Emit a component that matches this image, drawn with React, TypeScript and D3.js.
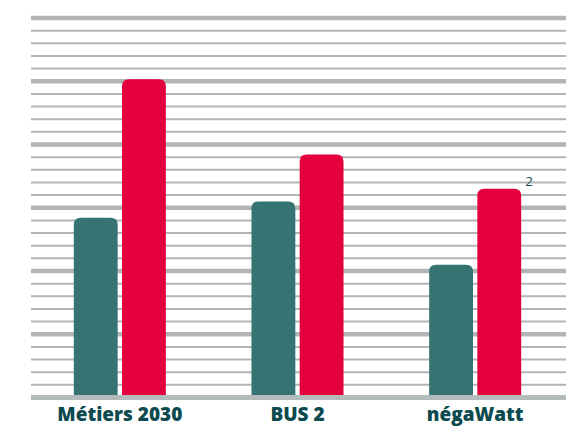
import React from "react";
import * as d3 from "d3";

// scenarios and the two series (in grid units)
const categories = ["Métiers 2030", "BUS 2", "négaWatt"];
const seriesKeys = ["a", "b"];
const seriesA = [14.2, 15.5, 10.5];
const seriesB = [25.15, 19.2, 16.5];
const gridTicks = d3.range(0, 31);
const noteLabel = "2";

const width = 579;
const height = 428;
const colors = ["#367473", "#e4003d"];

function topRounded(x: number, y: number, w: number, h: number, r: number) {
  const rr = Math.min(r, w / 2, h);
  return (
    `M${x},${y + h}` +
    `V${y + rr}` +
    `Q${x},${y} ${x + rr},${y}` +
    `H${x + w - rr}` +
    `Q${x + w},${y} ${x + w},${y + rr}` +
    `V${y + h}Z`
  );
}

export default function App() {
  const y = d3.scaleLinear().domain([0, 30]).range([397.5, 18]);
  const x0 = d3.scaleBand().domain(categories).range([31, 564]).paddingInner(0.482).paddingOuter(0.241);
  const x1 = d3.scaleBand().domain(seriesKeys).range([0, x0.bandwidth()]).paddingInner(0.09);

  const rows = categories.map((c, i) => ({ cat: c, values: [seriesA[i], seriesB[i]] }));

  return (
    <svg width={width} height={height} style={{ position: "absolute", left: 0, top: 0, background: "#fff" }}>
      <g>
        {gridTicks.map((t) => (
          <line
            key={t}
            x1={31}
            x2={566}
            y1={y(t)}
            y2={y(t)}
            stroke="#b1b5b8"
            strokeWidth={t % 5 === 0 ? 4.5 : 2}
          />
        ))}
      </g>
      <g>
        {rows.map((r) => (
          <g key={r.cat} transform={"translate(" + x0(r.cat) + ",0)"}>
            {r.values.map((v, j) => (
              <path
                key={j}
                d={topRounded(x1(seriesKeys[j])!, y(v), x1.bandwidth(), y(0) - y(v), 7)}
                fill={colors[j]}
              />
            ))}
          </g>
        ))}
      </g>
      <line x1={31} x2={566} y1={y(0)} y2={y(0)} stroke="#b3bbbc" strokeWidth={5} />
      <text
        x={x0("négaWatt")! + x1("b")! + x1.bandwidth() + 4}
        y={y(seriesB[2]) - 3}
        fontFamily="'Open Sans', sans-serif"
        fontSize={13.5}
        fill="#1d4c52"
      >
        {noteLabel}
      </text>
      <g>
        {categories.map((c) => (
          <text
            key={c}
            x={x0(c)! + x0.bandwidth() / 2}
            y={421}
            textAnchor="middle"
            fontFamily="'Open Sans', sans-serif"
            fontWeight={800}
            fontSize={19}
            fill="#0d4a4f"
          >
            {c}
          </text>
        ))}
      </g>
    </svg>
  );
}
